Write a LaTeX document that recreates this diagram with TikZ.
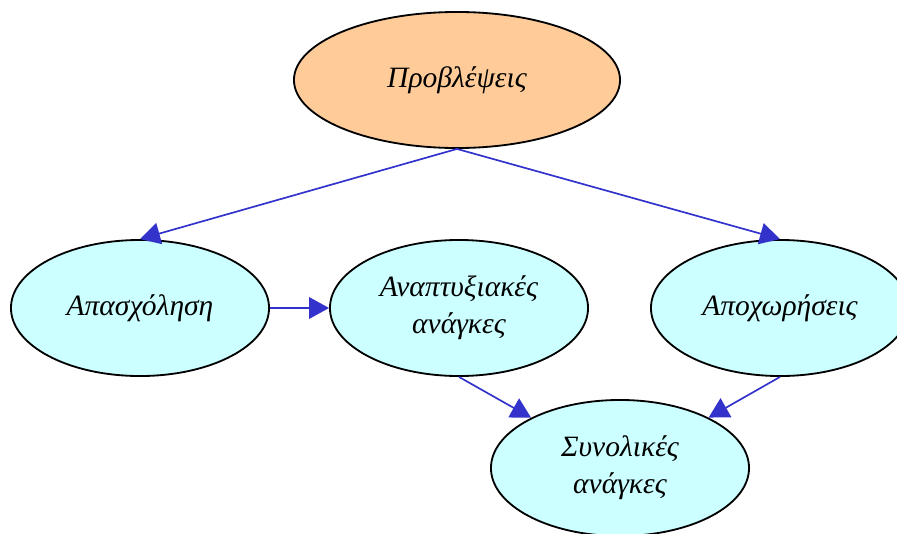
\documentclass[tikz,border=0pt]{standalone}
\usepackage{fontspec}
\setmainfont{Liberation Serif}
\usetikzlibrary{shapes.geometric,arrows.meta}
\definecolor{peach}{HTML}{FFCC99}
\definecolor{paleblue}{HTML}{CCFFFF}
\definecolor{edgeblue}{HTML}{3333CC}
\begin{document}
\begin{tikzpicture}[x=0.025cm, y=-0.025cm,
  every node/.style = {draw = black, shape = ellipse, line width = 1.3pt, inner sep = 0pt,
    minimum width = 6.45cm, minimum height = 3.4cm, align = center,
    font = \fontsize{21}{26}\selectfont\itshape, fill = paleblue},
  link/.style = {draw = edgeblue, line width = 1.2pt, -{Triangle[length=5mm, width=5.4mm]}}]
	\useasboundingbox (0,0) rectangle (897,534);
	\clip (0,0) rectangle (897,534);
	\node[fill = peach, minimum width = 8.15cm] (P) at (457,80) {Προβλέψεις};
	\node (A) at (140,308) {Απασχόληση};
	\node (B) at (459,308) {Αναπτυξιακές\\ανάγκες};
	\node (C) at (780,308) {Αποχωρήσεις};
	\node (D) at (620,468) {Συνολικές\\ανάγκες};
	\draw[link] (P.south) -- (A.north);
	\draw[link] (P.south) -- (C.north);
	\draw[link] (A) -- (B);
	\draw[link] (B.south) -- (D);
	\draw[link] (C.south) -- (D);
\end{tikzpicture}
\end{document}
